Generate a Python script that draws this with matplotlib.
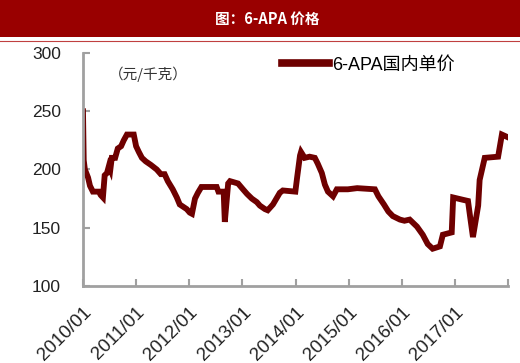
import matplotlib
matplotlib.use('Agg')
import matplotlib.pyplot as plt
import pandas as pd
from matplotlib.patches import Rectangle
from matplotlib.lines import Line2D

plt.rcParams['font.family'] = ['Liberation Sans', 'Noto Sans CJK SC', 'DejaVu Sans']

# ---------- data ----------
dates = [
    '2010-01-01', '2010-01-06', '2010-01-14', '2010-02-05', '2010-02-18', '2010-03-10',
    '2010-04-20', '2010-05-03', '2010-05-18', '2010-05-30', '2010-06-15', '2010-06-28',
    '2010-07-08', '2010-07-18', '2010-08-10', '2010-08-28', '2010-09-20', '2010-10-08',
    '2010-10-30', '2010-12-16', '2011-01-01', '2011-01-20', '2011-02-10', '2011-03-08',
    '2011-04-12', '2011-05-23', '2011-06-20', '2011-07-16', '2011-08-07', '2011-09-10',
    '2011-10-08', '2011-10-28', '2011-12-15', '2012-01-05', '2012-01-20', '2012-02-10',
    '2012-03-01', '2012-03-25', '2012-07-08', '2012-07-20', '2012-08-25', '2012-09-02',
    '2012-09-25', '2012-10-08', '2012-12-02', '2013-01-05', '2013-02-02', '2013-03-07',
    '2013-04-10', '2013-05-01', '2013-06-05', '2013-06-24', '2013-07-30', '2013-09-15',
    '2013-10-06', '2013-12-31', '2014-01-12', '2014-02-01', '2014-02-08', '2014-03-05',
    '2014-04-08', '2014-05-14', '2014-06-03', '2014-07-01', '2014-07-22', '2014-08-12',
    '2014-09-16', '2014-10-12', '2014-12-27', '2015-03-01', '2015-07-01', '2015-07-25',
    '2015-09-01', '2015-10-01', '2015-11-01', '2015-12-20', '2016-01-20', '2016-02-25',
    '2016-04-15', '2016-05-25', '2016-06-28', '2016-08-01', '2016-09-20', '2016-10-10',
    '2016-12-10', '2016-12-20', '2017-02-25', '2017-04-01', '2017-04-15', '2017-05-05',
    '2017-06-10', '2017-06-20', '2017-07-25', '2017-10-25', '2017-11-20', '2017-12-25',
]
price = [
    250, 208, 200, 193, 186, 181,
    181, 178, 176, 195, 197, 203,
    200, 210, 210, 218, 220, 225,
    230, 230, 220, 215, 210, 207,
    204, 200, 196, 196, 190, 183,
    176, 170, 166, 163, 162, 175,
    180, 185, 185, 181, 181, 155,
    188, 190, 188, 183, 179, 175,
    172, 169, 166, 165, 170, 180,
    182, 181, 193, 212, 215, 210,
    211, 210, 205, 197, 187, 181,
    177, 183, 183, 184, 183, 177,
    170, 164, 160, 157, 156, 157,
    151, 144, 136, 132, 134, 144,
    146, 176, 174, 173, 160, 142,
    169, 191, 210, 211, 230, 228,
]
x_ticks = ['2010-01-01', '2011-01-01', '2012-01-01', '2013-01-01', '2014-01-01',
           '2015-01-01', '2016-01-01', '2017-01-01', '2018-01-01']
y_ticks = [100, 150, 200, 250, 300]

dates = pd.to_datetime(dates)
x_ticks = pd.to_datetime(x_ticks)

line_color = '#6e0000'
spine_color = '#a0a0a0'

fig = plt.figure(figsize=(5.2, 3.63), dpi=100)

# ---------- title banner ----------
fig.patches.append(Rectangle((0, 1 - 37 / 363), 1, 37 / 363, transform=fig.transFigure,
                             facecolor='#990000', edgecolor='none'))
fig.lines.append(Line2D([0, 1], [1 - 40.5 / 363] * 2, transform=fig.transFigure,
                        color='#c04040', lw=0.8))
fig.text(0.513, 1 - 19 / 363, '图：6-APA 价格', color='white', fontsize=10.5,
         fontweight='bold', ha='center', va='center',
         family=['Noto Sans CJK SC', 'DejaVu Sans'])

# ---------- plot ----------
ax = fig.add_axes([83 / 520, 1 - 286 / 363, 425 / 520, 233 / 363])
ax.plot(dates, price, color=line_color, lw=4.2, solid_joinstyle='miter',
        label='6-APA国内单价')

ax.set_ylim(100, 300)
ax.set_xlim(x_ticks[0], x_ticks[-1])
ax.set_yticks(y_ticks)
ax.set_xticks(x_ticks)
ax.set_xticklabels([d.strftime('%Y/%m') for d in x_ticks[:-1]] + [''])

for s in ['top', 'right']:
    ax.spines[s].set_visible(False)
for s in ['left', 'bottom']:
    ax.spines[s].set_color(spine_color)
    ax.spines[s].set_linewidth(2)

ax.tick_params(axis='both', direction='in', color=spine_color, width=1.5, length=5,
               labelcolor='#222222')
ax.tick_params(axis='y', pad=16, labelsize=12.5)
ax.tick_params(axis='x', labelsize=13.5, pad=13)
for lbl in ax.get_xticklabels():
    lbl.set_rotation(45)
    lbl.set_ha('right')
    lbl.set_rotation_mode('anchor')

ax.text(0.06, 0.91, '（元/千克）', transform=ax.transAxes, fontsize=10.5,
        color='#333333', va='center', family=['Noto Sans CJK SC', 'DejaVu Sans'])

leg = ax.legend(loc='center left', bbox_to_anchor=(0.468, 0.948), frameon=False,
                handlelength=2.6, handletextpad=0.2, borderpad=0, borderaxespad=0,
                prop={'family': ['Liberation Sans', 'Noto Sans CJK SC'], 'size': 13})
for h in leg.get_lines():
    h.set_linewidth(5.5)

fig.savefig('out.png', dpi=100)
